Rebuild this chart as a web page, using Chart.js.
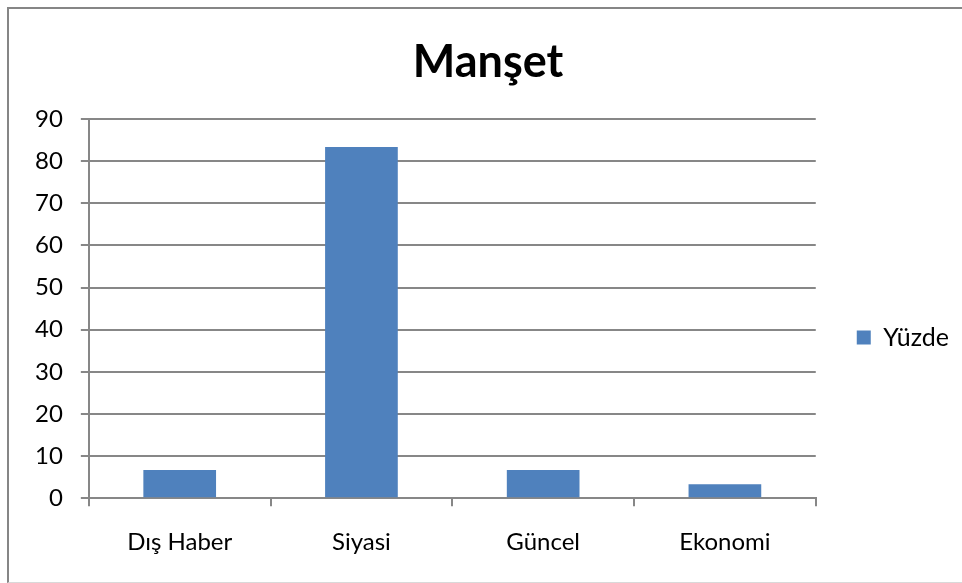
<!DOCTYPE html>
<html>
<head>
<meta charset="utf-8">
<script src="https://cdn.jsdelivr.net/npm/chart.js@4"></script>
<style>
  html, body { margin: 0; padding: 0; background: #fff; }
  #wrap { position: relative; width: 962px; height: 583px; overflow: hidden; }
  #frame {
    position: absolute; left: 7px; top: 7px; width: 1000px; height: 573px;
    border-left: 2px solid #868686; border-top: 2px solid #868686;
    border-bottom: 1px solid #d9d9d9; pointer-events: none;
  }
</style>
</head>
<body>
<div id="wrap">
  <canvas id="myChart" width="962" height="583"></canvas>
  <div id="frame"></div>
</div>
<script>
const categories = ['Dış Haber', 'Siyasi', 'Güncel', 'Ekonomi']
const yuzde = [6.67, 83.33, 6.67, 3.33]
const seriesName = 'Yüzde'
const chartTitle = 'Manşet'

window.onload = (() => {
  'use strict'

  const gridColor = '#878787'
  const font = 'Lato, Calibri, "Liberation Sans", sans-serif'

  const ctx = document.getElementById('myChart')
  // eslint-disable-next-line no-unused-vars
  const myChart = new Chart(ctx, {
    type: 'bar',
    data: {
      labels: categories,
      datasets: [{
        label: seriesName,
        data: yuzde,
        backgroundColor: '#4F81BD',
        borderWidth: 0,
        barPercentage: 0.8,
        categoryPercentage: 0.5
      }]
    },
    options: {
      responsive: false,
      animation: false,
      devicePixelRatio: 1,
      layout: {
        padding: { left: 17, right: 3, top: 0, bottom: 4 }
      },
      scales: {
        x: {
          grid: {
            drawOnChartArea: false,
            color: gridColor,
            lineWidth: 2,
            tickLength: 8,
            offset: true
          },
          border: { color: gridColor, width: 2 },
          ticks: {
            color: '#000',
            padding: 22,
            font: { family: font, size: 24 }
          }
        },
        y: {
          min: 0,
          max: 90,
          grid: {
            color: gridColor,
            lineWidth: 2,
            tickLength: 8
          },
          border: { color: gridColor, width: 2 },
          ticks: {
            stepSize: 10,
            color: '#000',
            padding: 18,
            font: { family: font, size: 24 }
          }
        }
      },
      plugins: {
        title: {
          display: true,
          text: chartTitle,
          color: '#000',
          font: { family: font, size: 45, weight: 'bold' },
          padding: { top: 35, bottom: 30 }
        },
        legend: {
          position: 'right',
          fullSize: false,
          title: {
            display: true,
            text: '',
            font: { size: 10 },
            padding: { top: 46, bottom: 0 }
          },
          labels: {
            color: '#000',
            boxWidth: 14,
            boxHeight: 14,
            padding: 41,
            font: { family: font, size: 25 }
          }
        },
        tooltip: { enabled: false }
      }
    }
  })
})
</script>
</body>
</html>
